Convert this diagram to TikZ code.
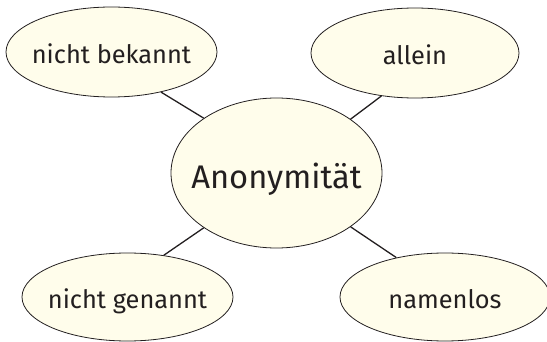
\documentclass[tikz,border=0pt]{standalone}
\usepackage{fontspec}
\setmainfont{Fira Sans}
\usetikzlibrary{shapes.geometric}
\definecolor{cream}{HTML}{FFFDEB}
\definecolor{ink}{HTML}{231F20}
\newcommand{\zw}[2]{\makebox[0pt]{\smash{\raisebox{-#1}{#2}}}}
\tikzset{
  bubble/.style={ellipse, draw=ink, line width=0.8pt, fill=cream, inner sep=0pt,
    text=ink, minimum width=211pt, minimum height=90pt, font=\fontsize{25.4}{30}\selectfont},
  hub/.style={bubble, minimum height=150pt, font=\fontsize{32.7}{38}\selectfont},
  link/.style={draw=ink, line width=1.3pt}
}
\begin{document}
\begin{tikzpicture}[x=1pt,y=-1pt]
\useasboundingbox (0,0) rectangle (547,342);
\node[hub] (c) at (276.5,173) {\zw{16pt}{Anonymität}};
\node[bubble] (nb) at (111.5,52) {\zw{11.5pt}{nicht bekannt}};
\node[bubble, minimum width=208pt] (al) at (415,53) {\zw{11.5pt}{allein}};
\node[bubble, minimum height=88pt] (ng) at (127.5,297) {\zw{11.5pt}{nicht genannt}};
\node[bubble, minimum width=210pt, minimum height=88pt] (nl) at (445,297) {\zw{11.5pt}{namenlos}};
\draw[link] (c.143.7) -- (nb.-39.5);
\draw[link] (c.36) -- (al.232.5);
\draw[link] (c.-143.7) -- (ng.49.8);
\draw[link] (c.-36.3) -- (nl.141.9);
\end{tikzpicture}
\end{document}
